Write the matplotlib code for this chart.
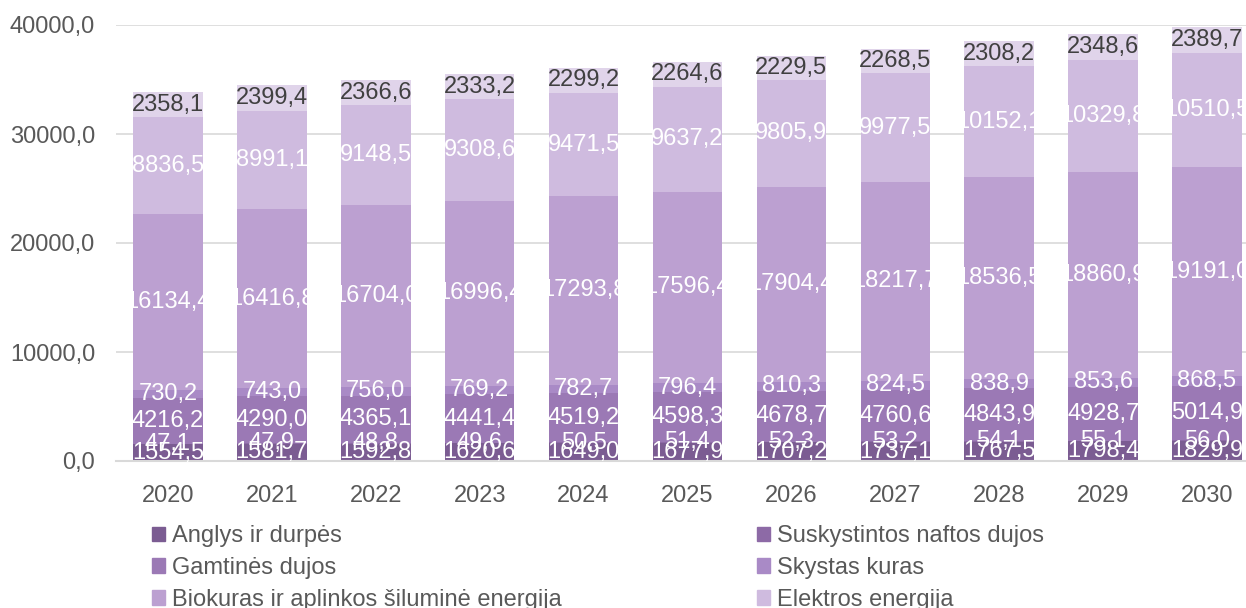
import numpy as np
import matplotlib
matplotlib.use('Agg')
from matplotlib import pyplot as plt
from matplotlib.patches import Patch

plt.rcParams['font.family'] = ['Liberation Sans', 'DejaVu Sans']

years = ['2020', '2021', '2022', '2023', '2024', '2025', '2026', '2027', '2028', '2029', '2030']

# series, bottom to top
anglys = [1554.5, 1581.7, 1592.8, 1620.6, 1649.0, 1677.9, 1707.2, 1737.1, 1767.5, 1798.4, 1829.9]
suskystintos = [47.1, 47.9, 48.8, 49.6, 50.5, 51.4, 52.3, 53.2, 54.1, 55.1, 56.0]
gamtines = [4216.2, 4290.0, 4365.1, 4441.4, 4519.2, 4598.3, 4678.7, 4760.6, 4843.9, 4928.7, 5014.9]
skystas = [730.2, 743.0, 756.0, 769.2, 782.7, 796.4, 810.3, 824.5, 838.9, 853.6, 868.5]
biokuras = [16134.4, 16416.8, 16704.0, 16996.4, 17293.8, 17596.4, 17904.4, 18217.7, 18536.5, 18860.9, 19191.0]
elektros = [8836.5, 8991.1, 9148.5, 9308.6, 9471.5, 9637.2, 9805.9, 9977.5, 10152.1, 10329.8, 10510.5]
kita = [2358.1, 2399.4, 2366.6, 2333.2, 2299.2, 2264.6, 2229.5, 2268.5, 2308.2, 2348.6, 2389.7]

series = [anglys, suskystintos, gamtines, skystas, biokuras, elektros, kita]
names = ['Anglys ir durpės', 'Suskystintos naftos dujos', 'Gamtinės dujos', 'Skystas kuras',
         'Biokuras ir aplinkos šiluminė energija', 'Elektros energija', None]
colors = ['#7b5c92', '#8d6aa6', '#9b79b5', '#a98ac6', '#bca0d1', '#cfbbdf', '#e0d4ea']

fig = plt.figure(figsize=(12.46, 6.08), dpi=100)
ax = fig.add_axes([116 / 1246, 147 / 608, 1143 / 1246, 436 / 608])

x = np.arange(len(years))
bottom = np.zeros(len(years))
for i, (vals, col) in enumerate(zip(series, colors)):
    vals = np.array(vals)
    ax.bar(x, vals, bottom=bottom, width=0.67, color=col, zorder=2)
    txtcol = '#404040' if i == len(series) - 1 else 'white'
    for xi, b, v in zip(x, bottom, vals):
        ax.text(xi, b + v / 2, f'{v:.1f}'.replace('.', ','), ha='center', va='center',
                fontsize=17, color=txtcol, zorder=3)
    bottom += vals

ax.set_xlim(-0.5, len(years) - 0.5)
ax.set_ylim(0, 40000)
ax.set_yticks(np.arange(0, 40001, 10000))
ax.set_yticklabels([f'{t:.1f}'.replace('.', ',') for t in np.arange(0, 40001, 10000)])
ax.set_xticks(x)
ax.set_xticklabels(years)
ax.tick_params(length=0, labelsize=17, colors='#595959')
ax.tick_params(axis='y', pad=15)
ax.tick_params(axis='x', pad=17)
ax.grid(axis='y', color='#d9d9d9', linewidth=1.2, zorder=0)
for s in ['top', 'right', 'left']:
    ax.spines[s].set_visible(False)
ax.spines['bottom'].set_color('#d9d9d9')
ax.spines['bottom'].set_linewidth(1.5)

# legend, filled column by column
order = [0, 2, 4, 1, 3, 5]
handles = [Patch(color=colors[k]) for k in order]
labels = [names[k] for k in order]
fig.legend(handles, labels, ncol=2, loc='upper left', bbox_to_anchor=(152 / 1246, 1 - 525 / 608),
           frameon=False, fontsize=17, labelcolor='#595959', handlelength=0.55, handleheight=0.55,
           handletextpad=0.3, columnspacing=8.25, labelspacing=0.42, borderpad=0, borderaxespad=0)

fig.savefig('out.png', dpi=100)
